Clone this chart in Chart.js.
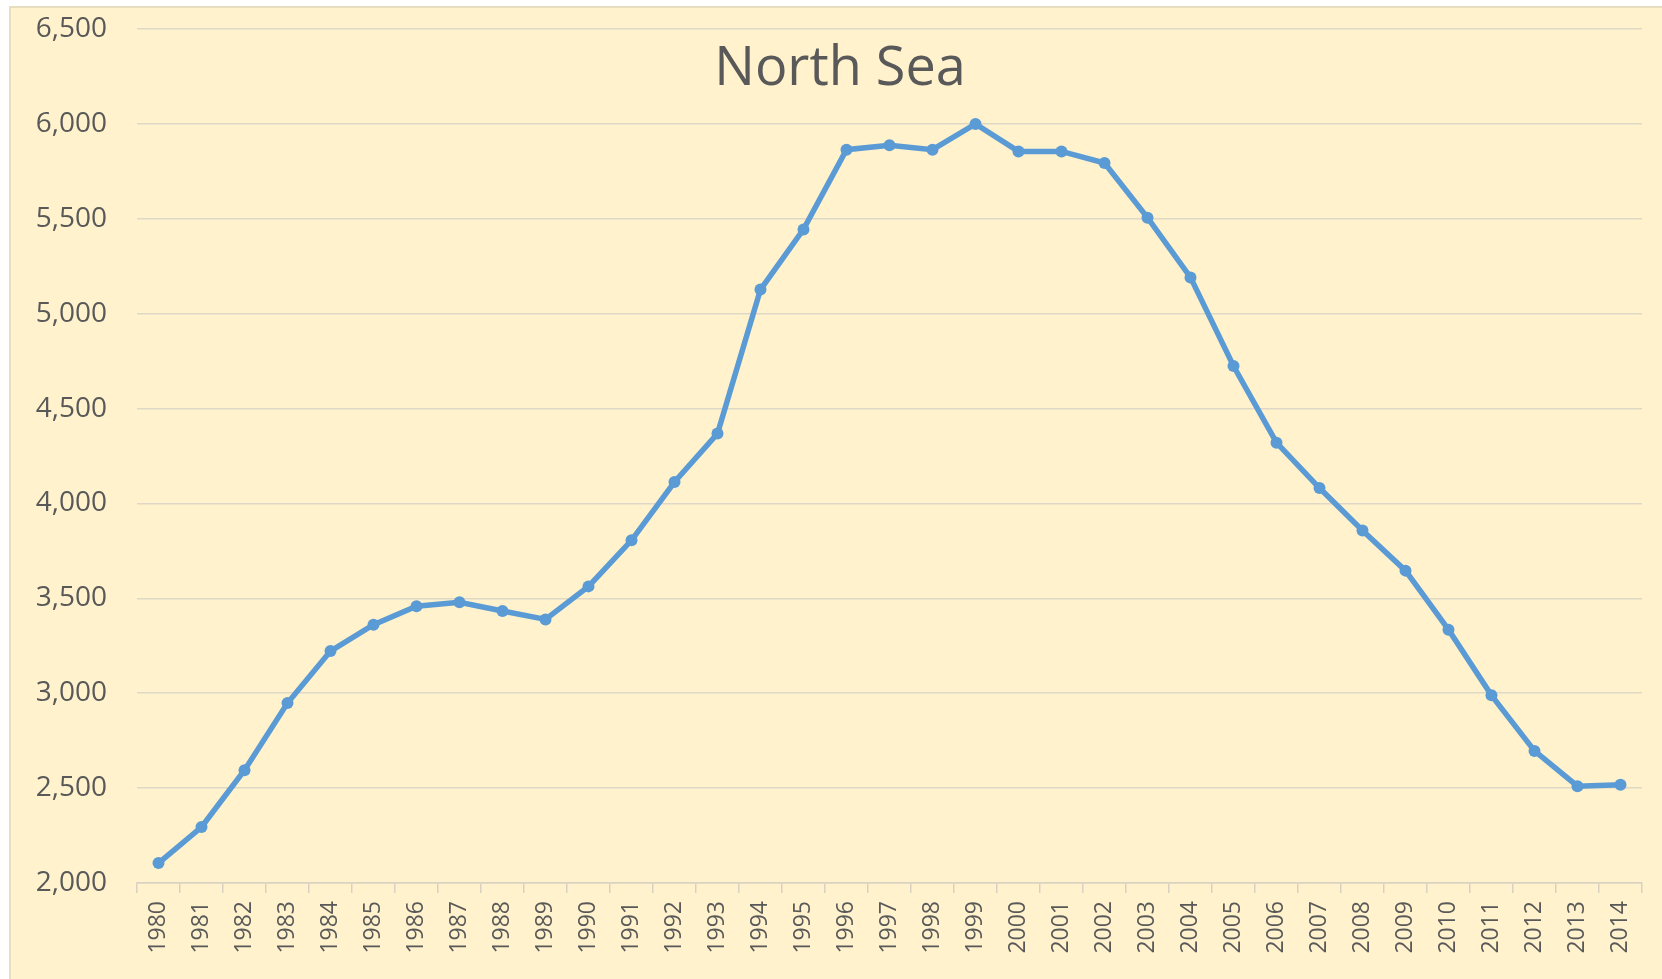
<!DOCTYPE html>
<html>
<head>
<meta charset="utf-8">
<script src="https://cdn.jsdelivr.net/npm/chart.js@4"></script>
<style>
  html, body { margin: 0; padding: 0; background: #ffffff; overflow: hidden; }
  #wrap { position: absolute; left: 0; top: 0; width: 1662px; height: 979px; }
</style>
</head>
<body>
<div id="wrap"><canvas id="c"></canvas></div>
<script>
const chartTitle = "North Sea";
const years = ["1980","1981","1982","1983","1984","1985","1986","1987","1988","1989",
  "1990","1991","1992","1993","1994","1995","1996","1997","1998","1999",
  "2000","2001","2002","2003","2004","2005","2006","2007","2008","2009",
  "2010","2011","2012","2013","2014"];
const production = [2105, 2295, 2594, 2948, 3222, 3361, 3458, 3479, 3433, 3389,
  3563, 3806, 4113, 4368, 5127, 5444, 5864, 5887, 5864, 6000,
  5855, 5855, 5794, 5506, 5191, 4724, 4320, 4081, 3858, 3646,
  3335, 2989, 2696, 2510, 2518];
const yMin = 2000, yMax = 6500, yStep = 500;

const bgPlugin = {
  id: 'bg',
  beforeDraw(chart) {
    const ctx = chart.ctx;
    ctx.save();
    ctx.fillStyle = '#ffffff';
    ctx.fillRect(0, 0, chart.width, chart.height);
    ctx.fillStyle = '#FFF2CC';
    ctx.fillRect(10, 7, chart.width - 10, chart.height - 7);
    ctx.strokeStyle = '#E9DDBF';
    ctx.lineWidth = 2;
    ctx.strokeRect(10, 7, chart.width, chart.height);
    ctx.restore();
  },
  afterDraw(chart) {
    const ctx = chart.ctx;
    ctx.save();
    ctx.font = '54px "Open Sans"';
    ctx.fillStyle = '#595959';
    ctx.textAlign = 'center';
    ctx.textBaseline = 'alphabetic';
    ctx.fillText(chartTitle, 840, 85);
    ctx.restore();
  }
};

new Chart(document.getElementById('c'), {
  type: 'line',
  data: {
    labels: years,
    datasets: [{
      data: production,
      borderColor: '#5B9BD5',
      backgroundColor: '#5B9BD5',
      borderWidth: 5.5,
      pointRadius: 6,
      pointBorderWidth: 0,
      pointBackgroundColor: '#5B9BD5',
      tension: 0,
      fill: false
    }]
  },
  options: {
    responsive: true,
    maintainAspectRatio: false,
    animation: false,
    layout: { padding: { top: 29, right: 20, left: 0, bottom: 0 } },
    plugins: { legend: { display: false }, tooltip: { enabled: false }, title: { display: false } },
    scales: {
      x: {
        offset: true,
        grid: { offset: true, drawOnChartArea: false, drawTicks: true, tickLength: 10, color: '#D9D2C2', lineWidth: 1.5 },
        border: { display: true, color: '#D9D2C2', width: 1.5 },
        ticks: {
          autoSkip: false, minRotation: 90, maxRotation: 90, padding: 8,
          color: '#595959', font: { family: '"Open Sans"', size: 23 }
        },
        afterFit(s) { s.height = 96; }
      },
      y: {
        min: yMin, max: yMax,
        grid: { drawTicks: true, tickLength: 30, tickColor: 'rgba(0,0,0,0)', color: '#E0D8C6', lineWidth: 1.5 },
        border: { display: false },
        ticks: {
          stepSize: yStep, padding: 0,
          color: '#595959', font: { family: '"Open Sans"', size: 28 },
          callback: v => v.toLocaleString('en-US')
        },
        afterFit(s) { s.width = 137; }
      }
    }
  },
  plugins: [bgPlugin]
});
</script>
</body>
</html>
